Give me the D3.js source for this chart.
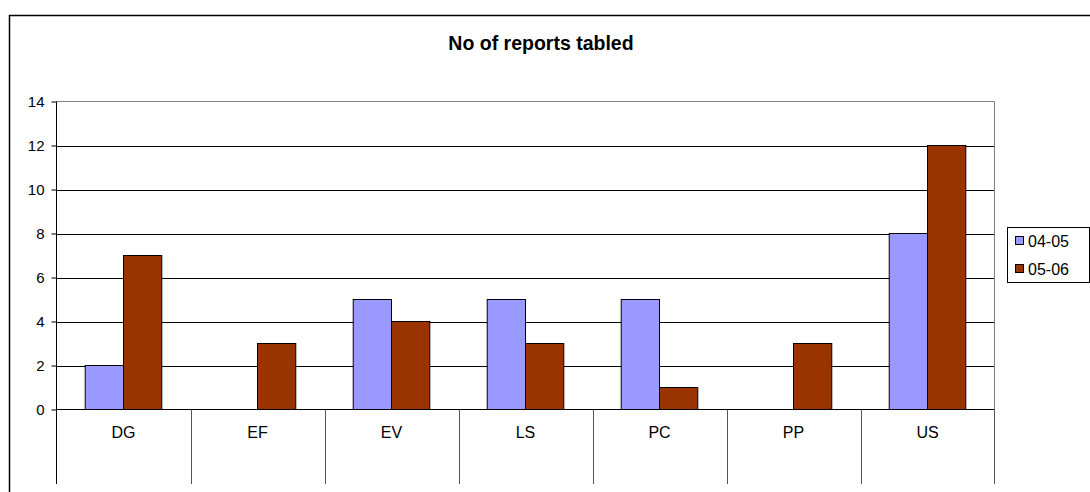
<!DOCTYPE html>
<html lang="en">
<head>
<meta charset="utf-8">
<title>No of reports tabled</title>
<script src="https://d3js.org/d3.v7.min.js"></script>
<style>
  body { margin: 0; background: #fff; }
  svg { display: block; font-family: "Liberation Sans", Arial, sans-serif; }
  .axis path { display: none; }
  .axis line { stroke: #000; }
  .axis text { font-size: 15px; fill: #000; }
</style>
</head>
<body>
<div id="chart"></div>
<script>
// data
var categories = ["DG", "EF", "EV", "LS", "PC", "PP", "US"];
var seriesNames = ["04-05", "05-06"];
var values0405 = [2, 0, 5, 5, 5, 0, 8];
var values0506 = [7, 3, 4, 3, 1, 3, 12];
var yTicks = [0, 2, 4, 6, 8, 10, 12, 14];
var colors = ["#9999ff", "#993300"];

var W = 1090, H = 492;
var plot = {left: 56.5, right: 994.5, top: 101.5, bottom: 409.5};

var svg = d3.select("#chart").append("svg")
  .attr("width", W)
  .attr("height", H);

// outer chart border
svg.append("rect")
  .attr("x", 9.5).attr("y", 15.5)
  .attr("width", W).attr("height", H)
  .attr("fill", "#fff")
  .attr("stroke", "#000")
  .attr("stroke-width", 1.5);

var x0 = d3.scaleBand()
  .domain(categories)
  .range([plot.left, plot.right])
  .paddingInner(0).paddingOuter(0);

var x1 = d3.scaleBand()
  .domain(seriesNames)
  .range([0, x0.bandwidth()])
  .paddingInner(0)
  .paddingOuter(0.75);

var y = d3.scaleLinear()
  .domain([0, 14])
  .range([plot.bottom, plot.top]);

// gridlines
svg.append("g").selectAll("line")
  .data(yTicks.slice(1, -1))
  .enter().append("line")
  .attr("x1", plot.left).attr("x2", plot.right)
  .attr("y1", function(d) { return Math.round(y(d)) + 0.5; })
  .attr("y2", function(d) { return Math.round(y(d)) + 0.5; })
  .attr("stroke", "#000");

// plot area top/right frame
svg.append("path")
  .attr("d", "M" + plot.left + "," + plot.top + "H" + plot.right + "V" + plot.bottom)
  .attr("fill", "none")
  .attr("stroke", "#808080");

// bars
var rows = categories.map(function(c, i) {
  return {cat: c, vals: [values0405[i], values0506[i]]};
});

var groups = svg.append("g").selectAll("g")
  .data(rows)
  .enter().append("g")
  .attr("transform", function(d) { return "translate(" + x0(d.cat) + ",0)"; });

groups.selectAll("rect")
  .data(function(d) {
    return d.vals.map(function(v, j) { return {name: seriesNames[j], v: v, j: j}; })
      .filter(function(e) { return e.v > 0; });
  })
  .enter().append("rect")
  .attr("x", function(d) { return x1(d.name); })
  .attr("y", function(d) { return y(d.v); })
  .attr("width", x1.bandwidth())
  .attr("height", function(d) { return y(0) - y(d.v); })
  .attr("fill", function(d) { return colors[d.j]; })
  .attr("stroke", "#000")
  .attr("stroke-width", 1);

// y axis
var yAxis = d3.axisLeft(y).tickValues(yTicks).tickSize(5).tickPadding(7);
svg.append("g")
  .attr("class", "axis")
  .attr("transform", "translate(" + plot.left + ",0)")
  .call(yAxis);

// y axis line + x axis line
svg.append("line")
  .attr("x1", plot.left).attr("x2", plot.left)
  .attr("y1", plot.top).attr("y2", 484)
  .attr("stroke", "#000");
svg.append("line")
  .attr("x1", plot.left).attr("x2", plot.right)
  .attr("y1", plot.bottom).attr("y2", plot.bottom)
  .attr("stroke", "#000");

// category dividers below axis
svg.append("g").selectAll("line")
  .data(categories.slice(1).concat(["_end"]))
  .enter().append("line")
  .attr("x1", function(d) { return d === "_end" ? plot.right : Math.round(x0(d)) + 0.5; })
  .attr("x2", function(d) { return d === "_end" ? plot.right : Math.round(x0(d)) + 0.5; })
  .attr("y1", plot.bottom).attr("y2", 484)
  .attr("stroke", "#555");

// category labels
svg.append("g").selectAll("text")
  .data(categories)
  .enter().append("text")
  .attr("x", function(d) { return x0(d) + x0.bandwidth() / 2; })
  .attr("y", 438)
  .attr("text-anchor", "middle")
  .attr("font-size", 16)
  .text(function(d) { return d; });

// title
svg.append("text")
  .attr("x", 541)
  .attr("y", 50)
  .attr("text-anchor", "middle")
  .attr("font-size", 19.5)
  .attr("font-weight", "bold")
  .text("No of reports tabled");

// legend
var legend = svg.append("g");
legend.append("rect")
  .attr("x", 1007.5).attr("y", 227.5)
  .attr("width", 82).attr("height", 55)
  .attr("fill", "#fff")
  .attr("stroke", "#000");

var items = legend.selectAll("g")
  .data(seriesNames)
  .enter().append("g")
  .attr("transform", function(d, i) { return "translate(0," + (241 + i * 28) + ")"; });

items.append("rect")
  .attr("x", 1015.5).attr("y", -4.5)
  .attr("width", 8).attr("height", 8)
  .attr("fill", function(d, i) { return colors[i]; })
  .attr("stroke", "#000");

items.append("text")
  .attr("x", 1028)
  .attr("y", 0)
  .attr("dy", "0.36em")
  .attr("font-size", 16)
  .text(function(d) { return d; });
</script>
</body>
</html>
